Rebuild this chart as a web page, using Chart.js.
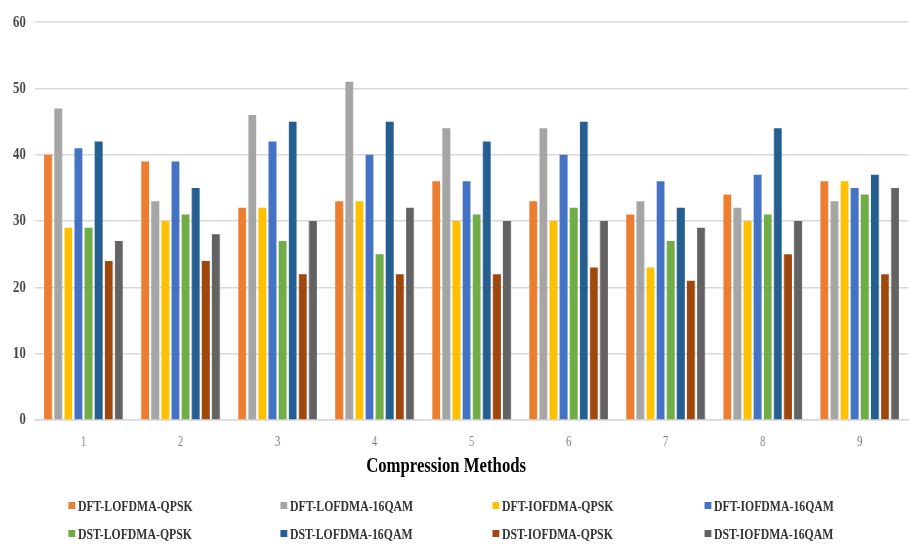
<!DOCTYPE html>
<html>
<head>
<meta charset="utf-8">
<title>Compression Methods</title>
<script src="https://cdn.jsdelivr.net/npm/chart.js@4/dist/chart.umd.min.js"></script>
<style>
  html, body { margin: 0; padding: 0; background: #fff; overflow: hidden; }
  /* the whole figure is laid out wide and squeezed horizontally */
  #stage {
    position: absolute; left: 0; top: 0;
    width: 1196px; height: 544px;
    transform: scaleX(0.76); transform-origin: 0 0;
  }
  #chart { position: absolute; left: 0; top: 0; }
  #xTitle {
    position: absolute; top: 453.5px; left: 387px; width: 400px;
    text-align: center;
    font: bold 22px/22px "Liberation Serif", "Times New Roman", serif;
    color: #000;
  }
  #legend {
    position: absolute; left: 89.5px; top: 491px;
    display: grid; grid-template-columns: repeat(4, 279px); grid-auto-rows: 28.5px;
  }
  .item {
    display: flex; align-items: center;
    font: bold 15.5px/15.5px "Liberation Serif", "Times New Roman", serif;
    color: #333;
    white-space: nowrap;
  }
  .swatch { width: 9.2px; height: 7px; margin-right: 3.8px; flex: none; }
</style>
</head>
<body>
<div id="stage">
  <canvas id="chart" width="1196" height="544"></canvas>
  <div id="xTitle">Compression Methods</div>
  <div id="legend"></div>
</div>
<script>
// categories on the x axis
const categories = ['1', '2', '3', '4', '5', '6', '7', '8', '9'];

// series values
const dftLofdmaQpsk  = [40, 39, 32, 33, 36, 33, 31, 34, 36];
const dftLofdma16qam = [47, 33, 46, 51, 44, 44, 33, 32, 33];
const dftIofdmaQpsk  = [29, 30, 32, 33, 30, 30, 23, 30, 36];
const dftIofdma16qam = [41, 39, 42, 40, 36, 40, 36, 37, 35];
const dstLofdmaQpsk  = [29, 31, 27, 25, 31, 32, 27, 31, 34];
const dstLofdma16qam = [42, 35, 45, 45, 42, 45, 32, 44, 37];
const dstIofdmaQpsk  = [24, 24, 22, 22, 22, 23, 21, 25, 22];
const dstIofdma16qam = [27, 28, 30, 32, 30, 30, 29, 30, 35];

// series names and y-axis ticks
const seriesNames = [
  'DFT-LOFDMA-QPSK', 'DFT-LOFDMA-16QAM', 'DFT-IOFDMA-QPSK', 'DFT-IOFDMA-16QAM',
  'DST-LOFDMA-QPSK', 'DST-LOFDMA-16QAM', 'DST-IOFDMA-QPSK', 'DST-IOFDMA-16QAM'
];
const yTicks = [0, 10, 20, 30, 40, 50, 60];

const seriesValues = [
  dftLofdmaQpsk, dftLofdma16qam, dftIofdmaQpsk, dftIofdma16qam,
  dstLofdmaQpsk, dstLofdma16qam, dstIofdmaQpsk, dstIofdma16qam
];
const seriesColors = [
  '#ED7D31', '#A5A5A5', '#FFC000', '#4472C4',
  '#70AD47', '#255E91', '#9E480E', '#636363'
];

const serif = '"Liberation Serif", "Times New Roman", serif';

const datasets = seriesNames.map((name, i) => ({
  label: name,
  data: seriesValues[i],
  backgroundColor: seriesColors[i],
  borderWidth: 0
}));

new Chart(document.getElementById('chart'), {
  type: 'bar',
  data: { labels: categories, datasets },
  options: {
    responsive: false,
    animation: false,
    devicePixelRatio: 1,
    layout: { padding: { top: 18, right: 1, left: 0, bottom: 0 } },
    datasets: { bar: { categoryPercentage: 0.833, barPercentage: 0.78 } },
    plugins: { legend: { display: false }, tooltip: { enabled: false } },
    scales: {
      x: {
        grid: { display: false, drawTicks: false },
        border: { display: true, color: '#d9d9d9', width: 1.5 },
        ticks: { color: '#7f7f7f', padding: 14, font: { family: serif, size: 14 } },
        afterFit(scale) { scale.height = 124; }
      },
      y: {
        min: yTicks[0],
        max: yTicks[yTicks.length - 1],
        afterBuildTicks(scale) { scale.ticks = yTicks.map(v => ({ value: v })); },
        grid: { color: '#d9d9d9', lineWidth: 1.5, drawTicks: false },
        border: { display: false },
        ticks: { color: '#404040', padding: 12, font: { family: serif, size: 17, weight: 'bold' } },
        afterFit(scale) { scale.width = 46; }
      }
    }
  }
});

// legend built from the same series list
const legend = document.getElementById('legend');
seriesNames.forEach((name, i) => {
  const item = document.createElement('div');
  item.className = 'item';
  const sw = document.createElement('span');
  sw.className = 'swatch';
  sw.style.background = seriesColors[i];
  item.appendChild(sw);
  item.appendChild(document.createTextNode(name));
  legend.appendChild(item);
});
</script>
</body>
</html>
